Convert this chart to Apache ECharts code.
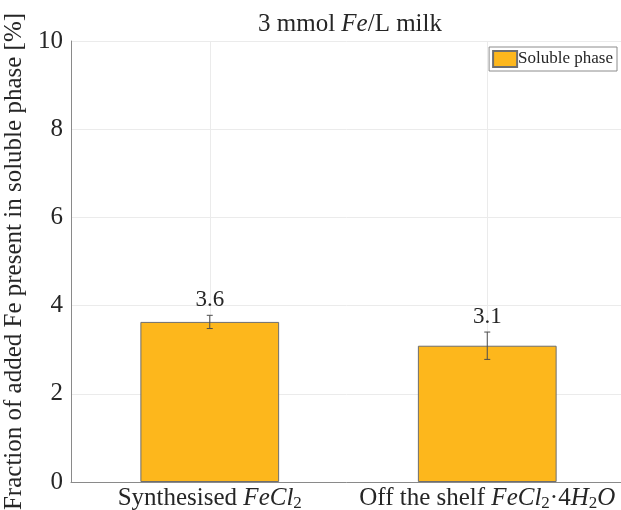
<!DOCTYPE html>
<html>
<head>
<meta charset="utf-8">
<script src="https://cdn.jsdelivr.net/npm/echarts@6/dist/echarts.min.js"></script>
<style>
  html, body { margin: 0; padding: 0; background: #fff; }
  #chart { width: 621px; height: 510px; }
</style>
</head>
<body>
<div id="chart"></div>
<script>
// Soluble iron fraction for two iron chloride sources (3 mmol Fe per litre of milk)
const categories = ['Synthesised', 'Off the shelf'];
const solubleValues = [3.63, 3.09];
const solubleErrors = [0.15, 0.31];
const yTicks = [0, 2, 4, 6, 8, 10];

const FONT = '"Liberation Serif", "DejaVu Serif", serif';
const TEXT = '#262626';
const BAR = '#fdb71c';

const chart = echarts.init(document.getElementById('chart'), null, { renderer: 'canvas' });

const richLabel = {
  n: { fontFamily: FONT, fontSize: 25, color: TEXT },
  i: { fontFamily: FONT, fontSize: 25, fontStyle: 'italic', color: TEXT },
  s: { fontFamily: FONT, fontSize: 17, color: TEXT, padding: [10, 0, 0, 0] },
  d: { fontFamily: FONT, fontSize: 25, color: TEXT }
};

const xLabels = {
  'Synthesised': '{n|Synthesised }{i|FeCl}{s|2}',
  'Off the shelf': '{n|Off the shelf }{i|FeCl}{s|2}{d|·4}{i|H}{s|2}{i|O}'
};

chart.setOption({
  animation: false,
  backgroundColor: '#fff',
  title: {
    text: '{n|3 mmol }{i|Fe}{n|/L milk}',
    left: 345,
    top: 7,
    textAlign: 'center',
    textStyle: {
      rich: {
        n: { fontFamily: FONT, fontSize: 25, fontWeight: 'normal', color: TEXT },
        i: { fontFamily: FONT, fontSize: 25, fontWeight: 'normal', fontStyle: 'italic', color: TEXT }
      }
    }
  },
  legend: {
    data: ['Soluble phase'],
    right: 4,
    top: 47,
    orient: 'vertical',
    padding: [3, 4, 3, 3],
    itemWidth: 24,
    itemHeight: 16,
    itemGap: 4,
    borderColor: '#8c8c8c',
    borderWidth: 1,
    borderRadius: 0,
    backgroundColor: '#fff',
    textStyle: { fontFamily: FONT, fontSize: 17, color: TEXT, padding: [0, 0, 0, -4] },
    icon: 'rect'
  },
  grid: { left: 71, top: 41, width: 555, height: 441, containLabel: false, outerBoundsMode: 'none' },
  xAxis: {
    type: 'category',
    data: categories,
    axisLine: { show: true, lineStyle: { color: '#8a8a8a', width: 1 } },
    axisTick: { show: false },
    splitLine: { show: false },
    axisLabel: {
      interval: 0,
      hideOverlap: false,
      margin: 3,
      formatter: v => xLabels[v],
      rich: richLabel
    }
  },
  yAxis: {
    type: 'value',
    min: 0,
    max: 10,
    interval: 2,
    name: 'Fraction of added Fe present in soluble phase [%]',
    nameLocation: 'middle',
    nameGap: 38,
    nameTextStyle: { fontFamily: FONT, fontSize: 25, color: TEXT },
    axisLine: { show: true, lineStyle: { color: '#8a8a8a', width: 1 } },
    axisTick: { show: false },
    axisLabel: {
      margin: 8,
      fontFamily: FONT,
      fontSize: 25,
      color: TEXT,
      formatter: v => (yTicks.includes(v) ? String(v) : '')
    },
    splitLine: { show: true, lineStyle: { color: '#ebebeb', width: 1 } }
  },
  series: [
    {
      // vertical grid lines through each category centre
      type: 'line',
      data: [],
      silent: true,
      z: 0,
      markLine: {
        silent: true,
        z: 0,
        symbol: 'none',
        label: { show: false },
        lineStyle: { color: '#ebebeb', width: 1, type: 'solid' },
        data: categories.map(c => ({ xAxis: c }))
      }
    },
    {
      name: 'Soluble phase',
      type: 'bar',
      data: solubleValues,
      barWidth: '50%',
      z: 2,
      itemStyle: { color: BAR, borderColor: '#6e6e6e', borderWidth: 1 }
    },
    {
      // error bars with end caps
      type: 'custom',
      z: 3,
      silent: true,
      data: solubleValues.map((v, i) => [i, v - solubleErrors[i], v + solubleErrors[i]]),
      renderItem: (params, api) => {
        const lo = api.coord([api.value(0), api.value(1)]);
        const hi = api.coord([api.value(0), api.value(2)]);
        const cap = 3;
        const style = { stroke: '#4d4d4d', lineWidth: 1 };
        return {
          type: 'group',
          children: [
            { type: 'line', shape: { x1: lo[0], y1: lo[1], x2: hi[0], y2: hi[1] }, style },
            { type: 'line', shape: { x1: lo[0] - cap, y1: lo[1], x2: lo[0] + cap, y2: lo[1] }, style },
            { type: 'line', shape: { x1: hi[0] - cap, y1: hi[1], x2: hi[0] + cap, y2: hi[1] }, style }
          ]
        };
      }
    },
    {
      // value labels above the error bars
      type: 'custom',
      z: 4,
      silent: true,
      data: solubleValues.map((v, i) => [i, v + solubleErrors[i], v]),
      renderItem: (params, api) => {
        const p = api.coord([api.value(0), api.value(1)]);
        return {
          type: 'text',
          x: p[0],
          y: p[1] - 4,
          style: {
            text: api.value(2).toFixed(1),
            fontFamily: FONT,
            fontSize: 23,
            fill: TEXT,
            align: 'center',
            verticalAlign: 'bottom'
          }
        };
      }
    }
  ]
});
</script>
</body>
</html>
